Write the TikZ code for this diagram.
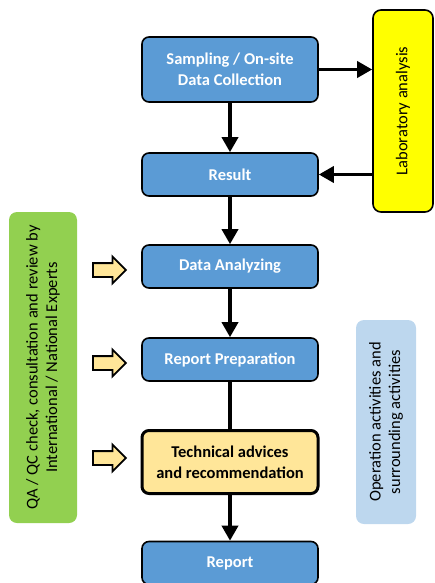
\documentclass[tikz,border=0pt]{standalone}
\usepackage{fontspec}
\setmainfont{Carlito}
\usetikzlibrary{shapes.arrows,arrows.meta}
\definecolor{stageblue}{HTML}{5B9BD5}
\definecolor{advicefill}{HTML}{FFE699}
\definecolor{labyellow}{HTML}{FFFF00}
\definecolor{qagreen}{HTML}{92D050}
\definecolor{opblue}{HTML}{BDD7EE}
\begin{document}
\begin{tikzpicture}[x=1pt,y=-1pt,
    stage/.style={draw=black,line width=1.6pt,rounded corners=7pt,fill=stageblue,
      minimum width=176pt,text=white,align=center,
      font=\bfseries\fontsize{16.5}{21}\selectfont},
    advice/.style={stage,fill=advicefill,text=black,line width=3pt},
    sidebox/.style={rounded corners=8pt,rotate=90,align=center,
      font=\fontsize{16.5}{19.5}\selectfont},
    flow/.style={line width=3.5pt,-{Triangle[length=15pt,width=16pt]}},
    hint/.style={single arrow,draw=black,line width=1.8pt,fill=advicefill,
      minimum height=33pt,minimum width=0pt,inner xsep=0pt,inner ysep=6pt,
      single arrow head extend=6.5pt,single arrow tip angle=90}]
  \useasboundingbox (0,0) rectangle (434,583);
  % main chain
  \node[stage,minimum height=65pt] (sampling) at (230,69.5) {Sampling / On-site\\Data Collection};
  \node[stage,minimum height=43pt] (result) at (230,174.5) {Result};
  \node[stage,minimum height=43pt] (analyzing) at (230,266.5) {Data Analyzing};
  \node[stage,minimum height=43pt] (preparation) at (230,359.5) {Report Preparation};
  \node[advice,minimum height=63pt] (advice) at (230,462) {Technical advices\\and recommendation};
  \node[stage,minimum height=43pt] (report) at (230,563) {Report};
  % side boxes
  \node[sidebox,draw=black,line width=1.6pt,fill=labyellow,minimum width=202pt,minimum height=60pt] (lab) at (403,111) {Laboratory analysis};
  \node[sidebox,fill=qagreen,minimum width=311pt,minimum height=68pt] (qa) at (43,367.5) {QA / QC check, consultation and review by\\International / National Experts};
  \node[sidebox,fill=opblue,minimum width=204pt,minimum height=60pt] (operation) at (386,422) {Operation activities and\\surrounding activities};
  % qa arrows
  \node[hint] (hintA) at (106,270) {};
  \node[hint] (hintB) at (106,363) {};
  \node[hint] (hintC) at (106,458) {};
  % connectors
  \draw[flow] (sampling.south) -- (result.north);
  \draw[flow] (result.south) -- (analyzing.north);
  \draw[flow] (analyzing.south) -- (preparation.north);
  \draw[line width=3.5pt] (preparation.south) -- (advice.north);
  \draw[flow] (advice.south) -- (report.north);
  \draw[flow] (sampling.east) -- (lab.north |- sampling.east);
  \draw[flow] (lab.north |- result.east) -- (result.east);
\end{tikzpicture}
\end{document}
